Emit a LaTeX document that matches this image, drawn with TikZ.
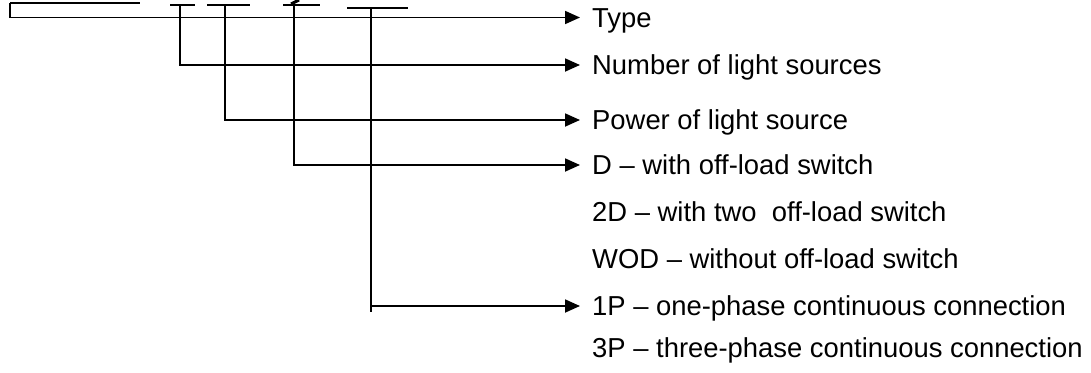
\documentclass[tikz,border=0pt]{standalone}
\usepackage{fontspec}
\setmainfont{Liberation Sans}
\usetikzlibrary{arrows.meta}
\begin{document}
\begin{tikzpicture}[x=1pt,y=-1pt,
  ln/.style={line width=1.8pt},
  arr/.style={ln,-{Triangle[length=15pt,width=13pt]}},
  lbl/.style={anchor=west,inner xsep=12pt,inner ysep=0pt,text height=19.6pt,text depth=0pt,
    font=\fontsize{27.4}{30}\selectfont}]
\useasboundingbox (0,0) rectangle (1091,372);
% labels
\node[lbl] (t1) at (580,17.5) {Type};
\node[lbl] (t2) at (580,65) {Number of light sources};
\node[lbl] (t3) at (580,120) {Power of light source};
\node[lbl] (t4) at (580,165) {D -- with off-load switch};
\node[lbl] (t5) at (580,212) {2D -- with two\ \ off-load switch};
\node[lbl] (t6) at (580,259) {WOD -- without off-load switch};
\node[lbl] (t7) at (580,306) {1P -- one-phase continuous connection};
\node[lbl] (t8) at (580,348) {3P -- three-phase continuous connection};
% top bars
\coordinate (b1) at (10,3);
\coordinate (b2) at (180,5);
\coordinate (b3) at (225,5);
\coordinate (b4) at (294,5);
\coordinate (b5) at (371,8);
\coordinate (e5) at (371,312);
\draw[ln] (b1) -- (140,3);
\draw[ln] (170,5) -- (195,5);
\draw[ln] (207,5) -- (250,5);
\draw[ln] (283,5) -- (320,5);
\draw[line width=2.2pt] (347,8) -- (408,8);
\draw[line width=3pt] (291,4) -- (299,0);
% connectors
\draw[arr] (b1) |- (t1.west);
\draw[arr] (b2) |- (t2.west);
\draw[arr] (b3) |- (t3.west);
\draw[arr] (b4) |- (t4.west);
\draw[ln] (b5) -- (e5);
\draw[arr] (b5) |- (t7.west);
\end{tikzpicture}
\end{document}
